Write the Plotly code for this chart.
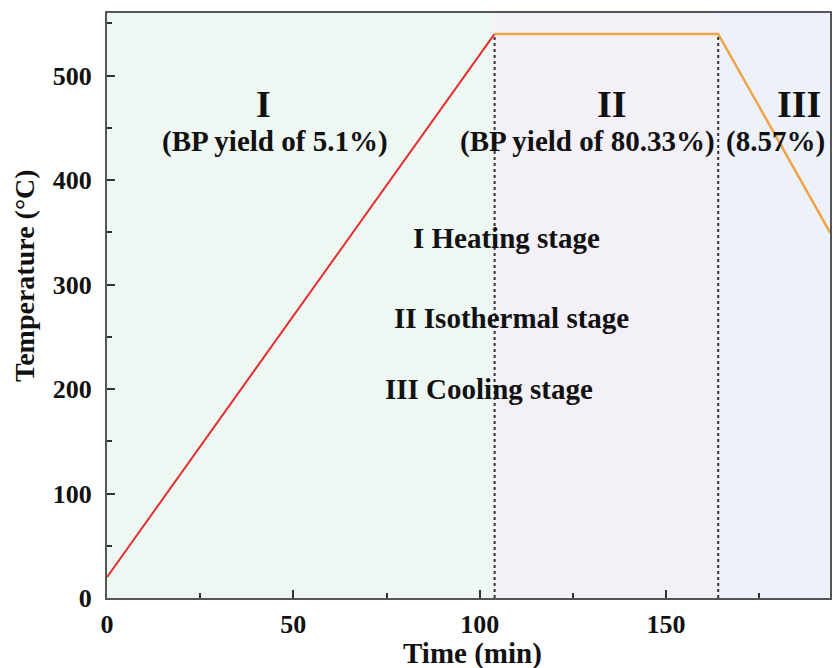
import plotly.graph_objects as go

# Data
time_heat = [0, 104]
temp_heat = [20, 540]
time_hold_cool = [104, 164, 194]
temp_hold_cool = [540, 540, 350]
stage_bounds = [0, 104, 164, 194]
stage_colors = ["rgba(232,244,236,0.75)", "rgba(243,238,246,0.9)", "rgba(234,240,250,0.9)"]
x_ticks = [0, 50, 100, 150]
y_ticks = [0, 100, 200, 300, 400, 500]

FONT = "Liberation Serif"

fig = go.Figure()

for i in range(3):
    fig.add_shape(type="rect", xref="x", yref="y", x0=stage_bounds[i], x1=stage_bounds[i+1],
                  y0=0, y1=560, fillcolor=stage_colors[i], line_width=0, layer="below")

for xb in stage_bounds[1:3]:
    fig.add_shape(type="line", xref="x", yref="y", x0=xb, x1=xb, y0=0, y1=540,
                  line=dict(color="#333", width=2, dash="dot"))

fig.add_trace(go.Scatter(x=time_heat, y=temp_heat, mode="lines",
                         line=dict(color="#e23030", width=2), showlegend=False))
fig.add_trace(go.Scatter(x=time_hold_cool, y=temp_hold_cool, mode="lines",
                         line=dict(color="#f0a448", width=2.5), showlegend=False))

def txt(x, y, s, size):
    fig.add_annotation(x=x, y=y, text=f"<b>{s}</b>", showarrow=False,
                       font=dict(family=FONT, size=size, color="#111"))

txt(42, 473, "I", 38)
txt(45, 437, "(BP yield of 5.1%)", 29)
txt(135.5, 473, "II", 38)
txt(129, 437, "(BP yield of 80.33%)", 29)
txt(185.6, 473, "III", 38)
txt(179.4, 437, "(8.57%)", 29)
txt(107.2, 345, "I Heating stage", 29)
txt(108.6, 268, "II Isothermal stage", 29)
txt(102.4, 200, "III Cooling stage", 29)

# axis titles
fig.add_annotation(xref="paper", yref="paper", x=0.505, y=-0.063, xanchor="center", yanchor="top",
                   text="<b>Time (min)</b>", showarrow=False,
                   font=dict(family=FONT, size=29, color="#111"))
fig.add_annotation(xref="paper", yref="paper", x=-0.115, y=0.552, xanchor="center", yanchor="middle",
                   text="<b>Temperature (°C)</b>", textangle=-90, showarrow=False,
                   font=dict(family=FONT, size=28, color="#111"))

axis_common = dict(showgrid=False, zeroline=False, showline=True, linecolor="#555", linewidth=2,
                   mirror=True, ticks="inside", ticklen=8, tickwidth=1.5, tickcolor="#333",
                   tickfont=dict(family=FONT, size=26, color="#111", weight="bold"))

fig.update_xaxes(range=[0, 194], tickvals=x_ticks,
                 minor=dict(ticks="inside", ticklen=5, tickwidth=1.5, tickcolor="#333", dtick=25, tick0=0),
                 ticklabelstandoff=2, **axis_common)
fig.update_yaxes(range=[0, 560], tickvals=y_ticks,
                 minor=dict(ticks="inside", ticklen=5, tickwidth=1.5, tickcolor="#333", dtick=50, tick0=0),
                 ticklabelstandoff=8, **axis_common)

fig.update_layout(width=834, height=668, margin=dict(l=107, r=2, t=13, b=70),
                  plot_bgcolor="white", paper_bgcolor="white")

fig.write_html("out.html")
